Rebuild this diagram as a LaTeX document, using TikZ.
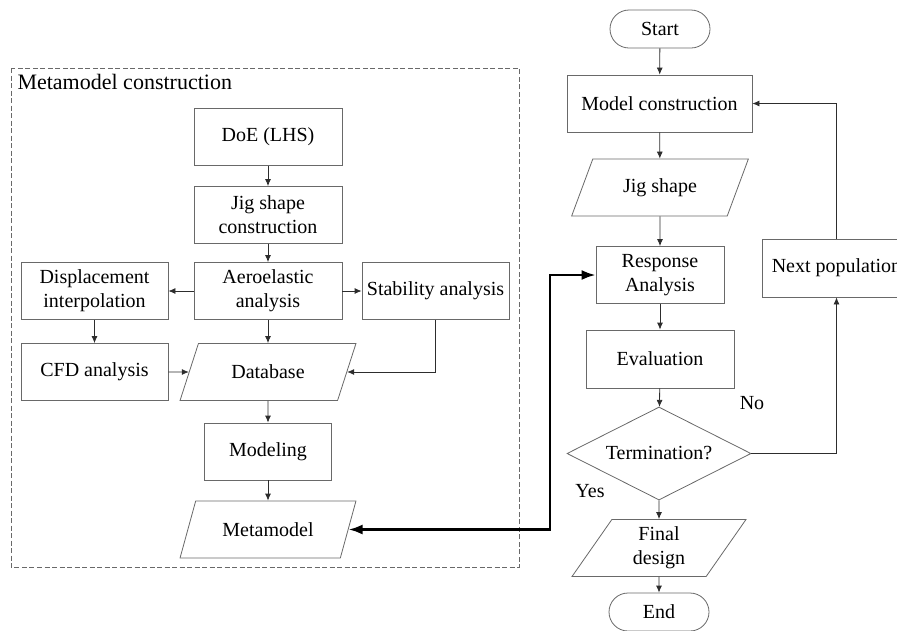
\documentclass[tikz,border=0pt]{standalone}
\usepackage{fontspec}
\setmainfont{Liberation Serif}
\usepackage{tikz}
\usetikzlibrary{arrows.meta,shapes,positioning}
\usepackage{xcolor}
\definecolor{boxgray}{RGB}{105,105,105}
\definecolor{linegray}{RGB}{45,45,45}
\tikzstyle{process} = [rectangle, minimum width=148pt, minimum height=57pt, text centered, align=center, draw=boxgray, fill=white, line width=0.8pt]
\tikzstyle{io} = [trapezium, trapezium left angle=63, trapezium right angle=117, trapezium stretches=true, minimum width=176pt, minimum height=57pt, text centered, align=center, draw=boxgray, fill=white, line width=0.8pt]
\tikzstyle{terminal} = [rectangle, rounded corners=19pt, minimum width=100pt, minimum height=38pt, text centered, draw=boxgray, fill=white, line width=0.8pt]
\tikzstyle{decision} = [diamond, aspect=2, minimum width=184pt, minimum height=93pt, inner sep=0pt, text centered, draw=boxgray, fill=white, line width=0.8pt]
\tikzstyle{arrow} = [-{Latex[length=7pt,width=6pt]},line width=0.8pt,color=linegray]
\tikzstyle{biarrow} = [{Latex[length=14pt,width=10pt]}-{Latex[length=14pt,width=10pt]},line width=2.4pt,color=black]

\begin{document}
\begin{tikzpicture}[x=1pt, y=-1pt, font=\fontsize{20}{24}\selectfont]
\useasboundingbox (0,0) rectangle (897,630);

% Metamodel construction frame
\draw[boxgray, line width=0.8pt, dash pattern=on 5pt off 2.5pt] (11,68) rectangle (519,567);
\node[anchor=west, font=\fontsize{22}{26}\selectfont] (title) at (14,82) {Metamodel construction};

% left flow
\node[process] (doe) at (268,137) {DoE (LHS)};
\node[process] (jig) at (268,215) {Jig shape\\construction};
\node[process] (aero) at (268,291) {Aeroelastic\\analysis};
\node[process, minimum width=147pt] (disp) at (94.5,291) {Displacement\\interpolation};
\node[process, minimum width=147pt] (stab) at (435.5,291) {Stability analysis};
\node[process, minimum width=147pt] (cfd) at (94.5,372) {CFD analysis};
\node[io] (db) at (268,372) {Database};
\node[process, minimum width=127pt] (modeling) at (268,451.5) {Modeling};
\node[io] (meta) at (268,529.5) {Metamodel};

% optimization loop
\node[terminal] (start) at (660,29) {Start};
\node[process, minimum width=185pt] (model) at (659.5,103.5) {Model construction};
\node[io, minimum width=177pt] (jigshape) at (660,187.5) {Jig shape};
\node[process, minimum width=128pt] (resp) at (660,275) {Response\\Analysis};
\node[process, minimum height=58pt] (eval) at (660,359) {Evaluation};
\node[decision] (term) at (659,453.5) {Termination?};
\node[io, minimum width=174pt, minimum height=57pt] (final) at (659,548) {Final\\design};
\node[terminal] (end) at (659,612) {End};
\node[process, minimum width=149pt, minimum height=58pt] (next) at (836.5,268) {Next population};

\node (no) at (752,403) {No};
\node (yes) at (590,491) {Yes};

% Arrows
\draw[arrow] (doe) -- (jig);
\draw[arrow] (jig) -- (aero);
\draw[arrow] (aero) -- (disp);
\draw[arrow] (aero) -- (stab);
\draw[arrow] (aero) -- (db);
\draw[arrow] (disp) -- (cfd);
\draw[arrow] (cfd) -- (db);
\draw[arrow] (stab.south) |- (db);
\draw[arrow] (db) -- (modeling);
\draw[arrow] (modeling) -- (meta);

\draw[arrow] (start) -- (model);
\draw[arrow] (model) -- (jigshape);
\draw[arrow] (jigshape) -- (resp);
\draw[arrow] (resp) -- (eval);
\draw[arrow] (eval) -- (term);
\draw[arrow] (term) -- (final);
\draw[arrow] (final) -- (end);
\draw[arrow] (term.east) -| (next.south);
\draw[arrow] (next.north) |- (model.east);

\coordinate (turn) at (550,400);
\draw[biarrow] (meta.east) -- (meta.east -| turn) |- (resp.west);
\end{tikzpicture}
\end{document}
